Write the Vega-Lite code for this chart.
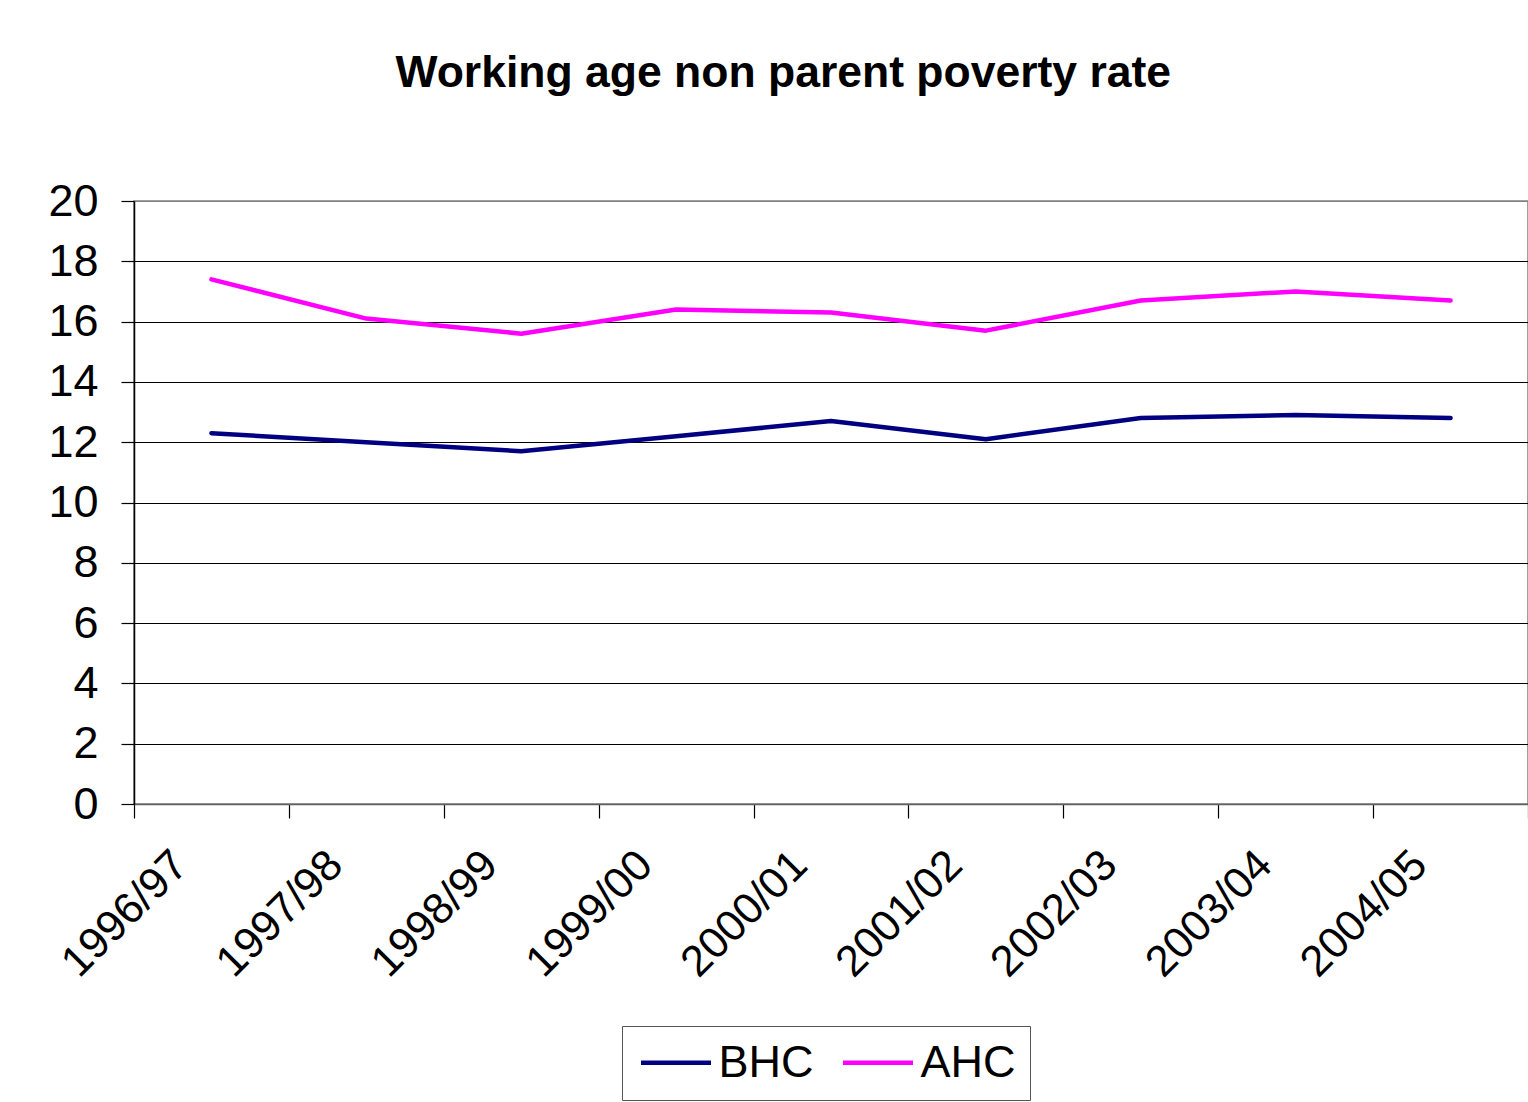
{
  "$schema": "https://vega.github.io/schema/vega-lite/v6.json",
  "width": 1394,
  "height": 603,
  "padding": {"left": 47, "top": 50, "right": 1, "bottom": 10},
  "background": "#ffffff",
  "title": {
    "text": "Working age non parent poverty rate",
    "fontSize": 44.5,
    "fontWeight": "bold",
    "font": "Liberation Sans",
    "anchor": "middle",
    "frame": "bounds",
    "offset": 83,
    "dx": -5,
    "color": "#000000"
  },
  "data": {
    "values": [
      {"year": "1996/97", "series": "BHC", "rate": 12.3},
      {"year": "1997/98", "series": "BHC", "rate": 12.0},
      {"year": "1998/99", "series": "BHC", "rate": 11.7},
      {"year": "1999/00", "series": "BHC", "rate": 12.2},
      {"year": "2000/01", "series": "BHC", "rate": 12.7},
      {"year": "2001/02", "series": "BHC", "rate": 12.1},
      {"year": "2002/03", "series": "BHC", "rate": 12.8},
      {"year": "2003/04", "series": "BHC", "rate": 12.9},
      {"year": "2004/05", "series": "BHC", "rate": 12.8},
      {"year": "1996/97", "series": "AHC", "rate": 17.4},
      {"year": "1997/98", "series": "AHC", "rate": 16.1},
      {"year": "1998/99", "series": "AHC", "rate": 15.6},
      {"year": "1999/00", "series": "AHC", "rate": 16.4},
      {"year": "2000/01", "series": "AHC", "rate": 16.3},
      {"year": "2001/02", "series": "AHC", "rate": 15.7},
      {"year": "2002/03", "series": "AHC", "rate": 16.7},
      {"year": "2003/04", "series": "AHC", "rate": 17.0},
      {"year": "2004/05", "series": "AHC", "rate": 16.7}
    ]
  },
  "mark": {"type": "line", "strokeWidth": 4.5, "strokeCap": "round", "strokeJoin": "round"},
  "encoding": {
    "x": {
      "field": "year",
      "type": "ordinal",
      "scale": {"type": "band", "paddingInner": 0, "paddingOuter": 0},
      "axis": {
        "title": null,
        "tickBand": "extent",
        "labelAngle": -45,
        "labelAlign": "right",
        "labelBaseline": "middle",
        "labelOffset": -31,
        "labelPadding": 40,
        "labelOverlap": false,
        "tickSize": 14,
        "tickColor": "#000000",
        "tickWidth": 1.2,
        "domainColor": "#606060",
        "domainWidth": 1.5,
        "labelFontSize": 43.5,
        "labelFont": "Liberation Sans",
        "labelColor": "#000000",
        "grid": false
      }
    },
    "y": {
      "field": "rate",
      "type": "quantitative",
      "scale": {"domain": [0, 20], "nice": false},
      "axis": {
        "title": null,
        "values": [0, 2, 4, 6, 8, 10, 12, 14, 16, 18, 20],
        "grid": true,
        "gridColor": {"condition": {"test": "datum.value === 20", "value": "#808080"}, "value": "#000000"},
        "gridWidth": 1,
        "domainColor": "#000000",
        "domainWidth": 1.5,
        "tickColor": "#000000",
        "tickWidth": 1.2,
        "tickSize": 13,
        "labelFontSize": 45,
        "labelFont": "Liberation Sans",
        "labelPadding": 23,
        "labelColor": "#000000"
      }
    },
    "color": {
      "field": "series",
      "type": "nominal",
      "scale": {"domain": ["BHC", "AHC"], "range": ["#000080", "#FF00FF"]},
      "legend": {
        "title": null,
        "orient": "none",
        "legendX": 488,
        "legendY": 825,
        "direction": "horizontal",
        "symbolType": "M-2,0L2,0",
        "symbolSize": 1225,
        "symbolOffset": 17.5,
        "symbolStrokeWidth": 4.5,
        "symbolFillColor": "transparent",
        "labelFontSize": 45,
        "labelFont": "Liberation Sans",
        "labelColor": "#000000",
        "labelOffset": 20,
        "columnPadding": 20,
        "padding": 14,
        "strokeColor": "#555555",
        "fillColor": "#ffffff"
      }
    }
  },
  "config": {
    "view": {"stroke": "#808080", "strokeWidth": 1.5},
    "font": "Liberation Sans"
  }
}
